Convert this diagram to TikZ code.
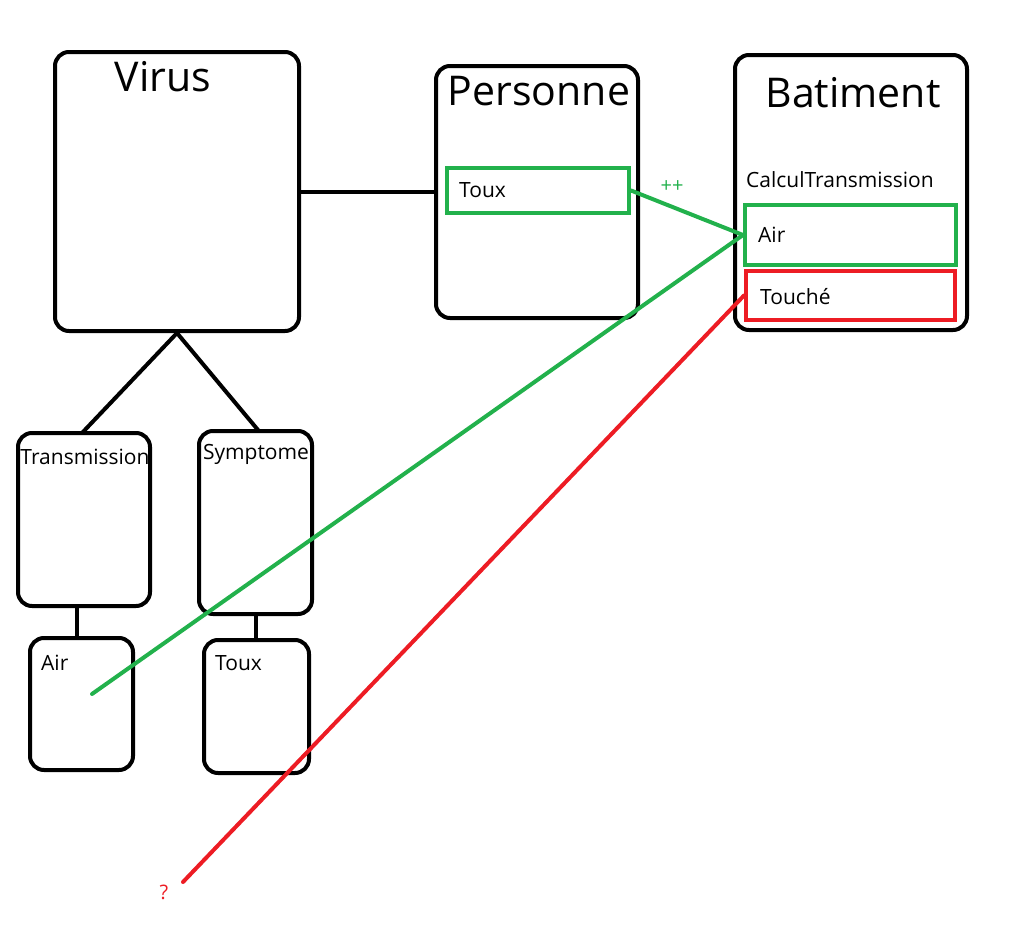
\documentclass[tikz,border=0pt]{standalone}
\usepackage{fontspec}
\setmainfont{Open Sans}
\usetikzlibrary{positioning, calc}
\definecolor{pgreen}{RGB}{34,177,76}
\definecolor{pred}{RGB}{237,28,36}

\begin{document}
\begin{tikzpicture}[x=1pt, y=-1pt,
    box/.style={draw, line width=4pt, rounded corners=14pt, inner sep=0pt},
    field/.style={draw, line width=4pt, inner sep=0pt},
    title/.style={font=\fontsize{41}{43}\selectfont, inner sep=0pt},
    txt/.style={font=\fontsize{21}{23}\selectfont, inner sep=0pt, anchor=west},
    note/.style={font=\fontsize{20}{22}\selectfont, inner sep=0pt},
    link/.style={line width=4pt}]
        \useasboundingbox (0,0) rectangle (1021,945);

        \node[box, minimum width=244pt, minimum height=279pt] (virus)    at (177,191.5) {};
        \node[box, minimum width=202pt, minimum height=252pt] (personne) at (537,192)   {};
        \node[box, minimum width=232pt, minimum height=275pt] (batiment) at (851,192.5) {};
        \node[box, minimum width=132pt, minimum height=173pt] (transm)   at (84,519.5)  {};
        \node[box, minimum width=113pt, minimum height=183pt] (sympt)    at (255.5,522.5) {};
        \node[box, minimum width=103pt, minimum height=132pt] (air)      at (81.5,704)  {};
        \node[box, minimum width=105pt, minimum height=133pt] (toux)     at (256.5,706.5) {};

        \node[title] (virust)    at (163,77) {Virus};
        \node[title] (personnet) at (539,91) {Personne};
        \node[title] (batimentt) at (853,93) {Batiment};

        \node[field, draw=pgreen, minimum width=182pt, minimum height=45pt] (ptoux) at (538,190.5) {};
        \node[field, draw=pgreen, minimum width=211pt, minimum height=60pt] (bair)  at (850.5,235) {};
        \node[field, draw=pred,   minimum width=209pt, minimum height=49pt] (btouche) at (850.5,295.5) {};

        \node[txt] (ptouxt)   at (459,190)  {Toux};
        \node[txt] (calcul)   at (746,180)  {CalculTransmission};
        \node[txt] (bairt)    at (758,235)  {Air};
        \node[txt] (btouchet) at (760,297)  {Touché};
        \node[txt, anchor=center] (transmt) at (85,457) {Transmission};
        \node[txt, anchor=center] (symptt)  at (256,454) {Symptome};
        \node[txt] (airt)  at (41,663) {Air};
        \node[txt] (touxt) at (215,663) {Toux};

        \node[note, text=pgreen] (plus)  at (672,187) {++};
        \node[note, text=pred]   (quest) at (164,892) {?};

        \coordinate (airin) at (92,694);
        \coordinate (qend)  at (183,882);

        \draw[link] (virus.east) -- (personne.west |- virus.east);
        \draw[link] (virus.south) -- (82,433);
        \draw[link] (virus.south) -- (258,430);
        \draw[link] (transm.south -| 77,0) -- (air.north -| 77,0);
        \draw[link] (sympt.south) -- (toux.north -| sympt.south);

        \draw[link, pgreen, line cap=round] (ptoux.east) -- (bair.west);
        \draw[link, pgreen, line cap=round] (airin) -- (bair.west);
        \draw[link, pred, line cap=round] (qend) -- (btouche.west);

      \end{tikzpicture}
\end{document}
